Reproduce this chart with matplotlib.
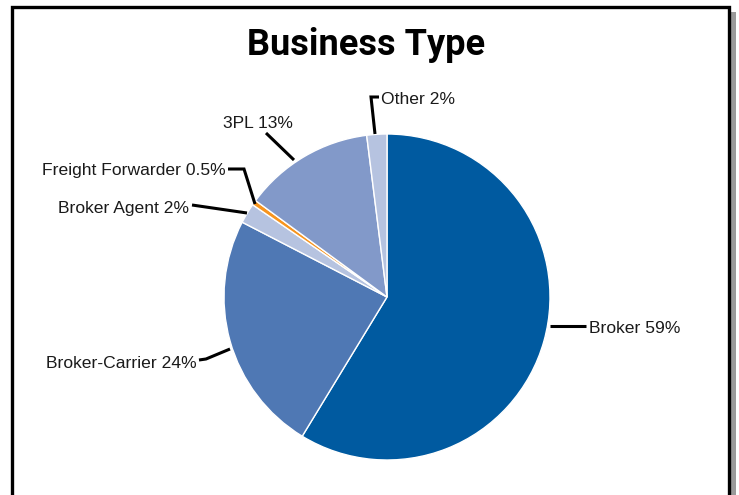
import matplotlib.pyplot as plt
from matplotlib.patches import Rectangle

categories = ["Broker", "Broker-Carrier", "Broker Agent", "Freight Forwarder", "3PL", "Other"]
shares = [59, 24, 2, 0.5, 13, 2]
share_text = ["59%", "24%", "2%", "0.5%", "13%", "2%"]
colors = ["#005AA0", "#4F78B4", "#B6C3E0", "#F7941E", "#8299C9", "#B6C3E0"]

W, H = 739, 495
fig = plt.figure(figsize=(W / 100, H / 100), dpi=100)
ax = fig.add_axes([0, 0, 1, 1])

# pie centre / radius in pixel units (y up)
cx, cy, r = 387, H - 297, 163
ax.pie(shares, colors=colors, startangle=90, counterclock=False,
       center=(cx, cy), radius=r,
       wedgeprops=dict(edgecolor="white", linewidth=1))
ax.set_xlim(0, W)
ax.set_ylim(0, H)
ax.set_aspect("equal")
ax.axis("off")

# label layout: leader polyline (image px, y down), text anchor, alignment
layout = {
    "Broker": ([(550, 326), (586, 326)], (589, 333), "left"),
    "Broker-Carrier": ([(230, 349), (206, 359), (199, 360)], (197, 368), "right"),
    "Broker Agent": ([(247, 213), (192, 205)], (189, 213), "right"),
    "Freight Forwarder": ([(255, 204), (244, 169), (228, 169)], (226, 175), "right"),
    "3PL": ([(294, 160), (266, 133)], (258, 128), "center"),
    "Other": ([(375, 134), (371, 97), (379, 97)], (381, 104), "left"),
}

for name, pct in zip(categories, share_text):
    pts, (tx, ty), ha = layout[name]
    xs = [p[0] for p in pts]
    ys = [H - p[1] for p in pts]
    ax.plot(xs, ys, color="black", lw=2.2, solid_capstyle="butt", solid_joinstyle="miter")
    ax.text(tx, H - ty, f"{name} {pct}", ha=ha, va="baseline", fontsize=12.6,
            family=["Liberation Sans", "DejaVu Sans"], color="#1a1a1a")

# title
ax.text(366, H - 55, "Business Type", ha="center", va="baseline", fontsize=26,
        fontweight="bold", family=["Roboto", "DejaVu Sans"])

# frame with grey shadow on the right
ax.add_patch(Rectangle((731, -10), 5, H - 12 + 10, facecolor="#9a9a9a", edgecolor="none"))
ax.add_patch(Rectangle((12, -10), 717, H - 7 + 10, facecolor="none", edgecolor="black", lw=2.4))

fig.savefig("out.png", dpi=100)
